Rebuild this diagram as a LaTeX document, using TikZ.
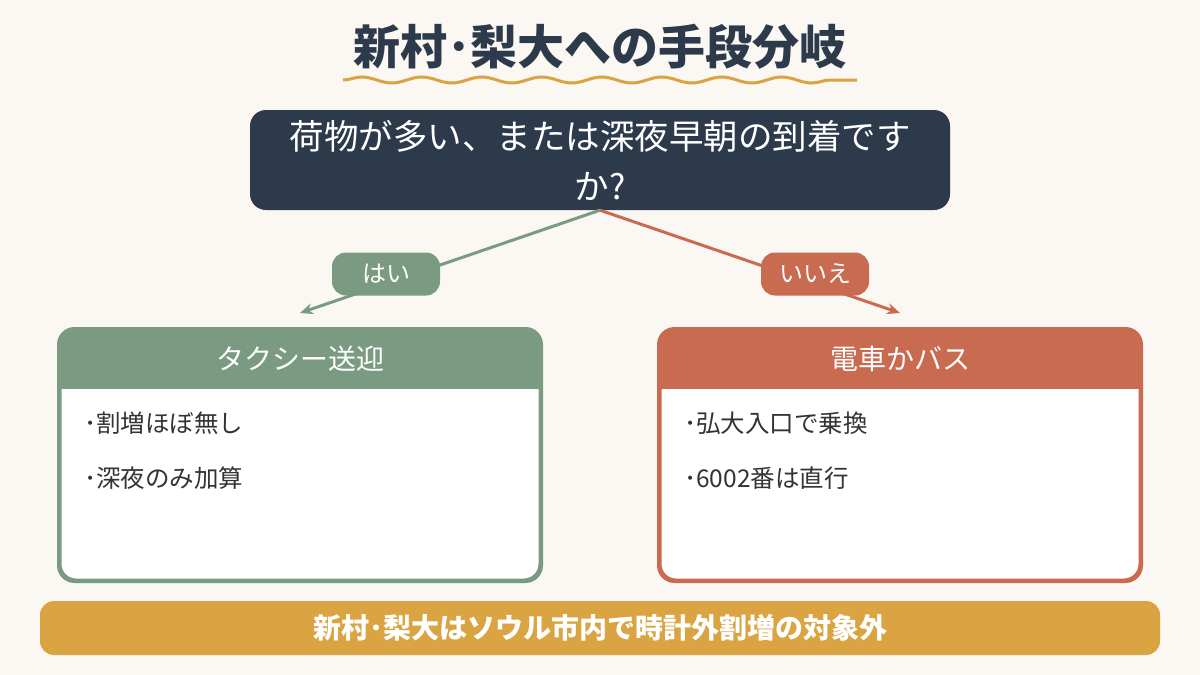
\documentclass[tikz,border=0pt]{standalone}
\usepackage{fontspec}
\setmainfont{Noto Sans CJK JP}
\usepackage{xcolor}
\usepackage{tikz}
\usetikzlibrary{positioning, arrows.meta, calc, decorations.pathmorphing}

\definecolor{bgcream}{HTML}{FBF7F2}
\definecolor{navy}{HTML}{2C3A4B}
\definecolor{sage}{HTML}{7A9A82}
\definecolor{terra}{HTML}{C96B50}
\definecolor{gold}{HTML}{D9A441}
\definecolor{inkgray}{HTML}{333333}

\begin{document}
\begin{tikzpicture}[x=1pt, y=-1pt,
    question/.style={fill=navy, rounded corners=16pt, minimum width=700pt, minimum height=100pt,
        text=white, align=center, font=\fontsize{34.5}{50}\selectfont},
    card/.style={draw=#1, line width=3pt, fill=white, rounded corners=16pt,
        minimum width=480pt, minimum height=250pt},
    head/.style={text=white, font=\fontsize{28}{32}\selectfont},
    item/.style={text=inkgray, anchor=west, font=\fontsize{24.5}{28}\selectfont},
    pill/.style={fill=#1, text=white, rounded corners=14pt, minimum width=108pt,
        minimum height=43pt, font=\fontsize{24}{28}\selectfont},
    branch/.style={draw=#1, line width=3pt, -{Stealth[length=13pt, width=11pt]}}
]
        \useasboundingbox (0,0) rectangle (1200,675);
        \fill[bgcream] (0,0) rectangle (1200,675);

        % Title
        \node[text=navy, font=\fontsize{47}{52}\selectfont\bfseries] (title) at (600,47) {新村･梨大への手段分岐};
        \draw[gold, line width=3pt, decorate, decoration={snake, amplitude=3pt, segment length=60pt}]
            (343,80) -- (857,80);

        % Question
        \node[question] (q) at (600,160) {荷物が多い、または深夜早朝の到着です\\か?};

        % Cards
        \node[card=sage] (taxi) at (300,455) {};
        \node[card=terra] (train) at (900,455) {};

        \foreach \c/\col in {taxi/sage, train/terra} {
            \begin{scope}
                \clip[rounded corners=16pt] (\c.south west) rectangle (\c.north east);
                \fill[\col] (\c.north west) rectangle ($(\c.north east)+(0,60)$);
            \end{scope}
            \draw[\col, line width=3pt, rounded corners=16pt] (\c.south west) rectangle (\c.north east);
        }

        \node[head] (taxihead) at ($(taxi.north)+(0,30)$) {タクシー送迎};
        \node[head] (trainhead) at ($(train.north)+(0,30)$) {電車かバス};

        \node[item] (taxia) at ($(taxi.north west)+(22,95)$) {･割増ほぼ無し};
        \node[item] (taxib) at ($(taxi.north west)+(22,150)$) {･深夜のみ加算};
        \node[item] (traina) at ($(train.north west)+(22,95)$) {･弘大入口で乗換};
        \node[item] (trainb) at ($(train.north west)+(22,150)$) {･6002番は直行};

        % Branches
        \coordinate (yesend) at (300,313);
        \coordinate (noend) at (900,313);
        \draw[branch=sage] (q.south) -- (yesend);
        \draw[branch=terra] (q.south) -- (noend);
        \node[pill=sage] (yes) at (386,274) {はい};
        \node[pill=terra] (no) at (815,274) {いいえ};

        % Note
        \node[fill=gold, rounded corners=14pt, minimum width=1120pt, minimum height=54pt,
            text=white, font=\fontsize{28}{30}\selectfont\bfseries] (note) at (600,628)
            {新村･梨大はソウル市内で時計外割増の対象外};
\end{tikzpicture}
\end{document}
